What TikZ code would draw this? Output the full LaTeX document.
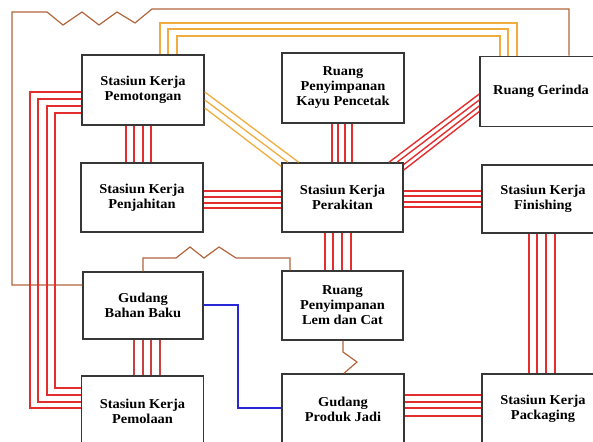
\documentclass[tikz,border=0pt]{standalone}
\usepackage{fontspec}
\setmainfont{Liberation Serif}[FakeStretch=1.06]
\definecolor{lnred}{RGB}{228,45,45}
\definecolor{lndred}{RGB}{200,65,65}
\definecolor{lnbrown}{RGB}{178,100,58}
\definecolor{lnorange}{RGB}{240,172,62}
\definecolor{lnblue}{RGB}{40,40,215}
\definecolor{boxline}{RGB}{55,55,55}
\tikzset{
  box/.style={draw=boxline, line width=1.5pt, fill=white, rectangle, minimum width=122pt, minimum height=70pt, inner sep=0pt, align=center, font=\fontsize{13.6}{15}\selectfont\bfseries},
  redln/.style={draw=lnred, line width=1.4pt},
  dredln/.style={draw=lndred, line width=1.4pt},
  brownln/.style={draw=lnbrown, line width=1.2pt},
  orangeln/.style={draw=lnorange, line width=1.3pt},
  blueln/.style={draw=lnblue, line width=1.3pt}
}
\begin{document}
\begin{tikzpicture}[x=1pt,y=-1pt]
\useasboundingbox (0,0) rectangle (593,441);
\clip (0,0) rectangle (593,441);
% boxes
\node[box] (pemotongan) at (143,90) {Stasiun Kerja\\Pemotongan};
\node[box] (kayu) at (343,88) {Ruang\\Penyimpanan\\Kayu Pencetak};
\node[box] (gerinda) at (541,91.5) {Ruang Gerinda};
\node[box, minimum height=69pt] (penjahitan) at (142,197.5) {Stasiun Kerja\\Penjahitan};
\node[box, minimum height=69pt, minimum width=121pt] (perakitan) at (342.5,197.5) {Stasiun Kerja\\Perakitan};
\node[box, minimum height=68pt] (finishing) at (543,199) {Stasiun Kerja\\Finishing};
\node[box, minimum height=67pt, minimum width=120pt] (bahan) at (143,305.5) {Gudang\\Bahan Baku};
\node[box, minimum height=69pt, minimum width=121pt] (lem) at (342.5,305.5) {Ruang\\Penyimpanan\\Lem dan Cat};
\node[box] (pemolaan) at (142.5,411) {Stasiun Kerja\\Pemolaan};
\node[box] (produk) at (343,409) {Gudang\\Produk Jadi};
\node[box] (packaging) at (543,409) {Stasiun Kerja\\Packaging};
% brown top line: Gudang Bahan Baku -> Ruang Gerinda
\draw[brownln] (bahan.west |- 0,285) -- (12,285) -- (12,12) -- (47,12) -- (63,25) -- (82,12) -- (99,25) -- (117,12) -- (135,23) -- (152,9) -- (569,9) -- (gerinda.north -| 569,0);
% brown: Gudang Bahan Baku -> Ruang Lem
\draw[brownln] (bahan.north -| 143,0) -- (143,258) -- (176,258) -- (190,247) -- (204,258) -- (219,247) -- (236,258) -- (290,258) -- (lem.north -| 290,0);
% brown: Lem -> Produk Jadi
\draw[brownln] (lem.south -| 343,0) -- (343,352) -- (357,362) -- (produk.north -| 344,0);
% blue: Bahan Baku -> Produk Jadi
\draw[blueln] (bahan.east |- 0,305) -- (238,305) -- (238,408) -- (produk.west |- 0,408);
% orange: Pemotongan -> Gerinda
\foreach \xa/\y/\xb in {160/23/517, 168/29/508, 177/36/500}
  \draw[orangeln] (pemotongan.north -| \xa,0) -- (\xa,\y) -- (\xb,\y) -- (gerinda.north -| \xb,0);
% orange diagonal: Pemotongan -> Perakitan
\draw[orangeln] (pemotongan.east |- 0,92) -- (perakitan.north -| 298.7,0);
\draw[orangeln] (pemotongan.east |- 0,100) -- (perakitan.north -| 288,0);
\draw[orangeln] (pemotongan.east |- 0,108) -- (perakitan.west |- 0,166.5);
% red: Pemotongan -> Pemolaan
\foreach \x/\ya/\yb in {30/92/408, 38/99/402, 47/106/395, 55/113/388}
  \draw[redln] (pemotongan.west |- 0,\ya) -- (\x,\ya) -- (\x,\yb) -- (pemolaan.west |- 0,\yb);
% red: Pemotongan -> Penjahitan
\foreach \x in {126,134,143,151}
  \draw[redln] (pemotongan.south -| \x,0) -- (penjahitan.north -| \x,0);
% red: Penjahitan -> Perakitan
\foreach \y in {191,197,203,208}
  \draw[redln] (penjahitan.east |- 0,\y) -- (perakitan.west |- 0,\y);
% red: Kayu -> Perakitan
\foreach \x in {332,338,345,352}
  \draw[redln] (kayu.south -| \x,0) -- (perakitan.north -| \x,0);
% red diagonal: Gerinda -> Perakitan
\draw[redln] (gerinda.west |- 0,94) -- (perakitan.north -| 389,0);
\draw[redln] (gerinda.west |- 0,100) -- (perakitan.north -| 397,0);
\draw[redln] (gerinda.west |- 0,106) -- (perakitan.east |- 0,164.5);
\draw[redln] (gerinda.west |- 0,111.5) -- (perakitan.east |- 0,170);
% red: Perakitan -> Finishing
\foreach \y in {191,196,202,207}
  \draw[redln] (perakitan.east |- 0,\y) -- (finishing.west |- 0,\y);
% red: Perakitan -> Lem
\foreach \x in {325,333,342,351}
  \draw[redln] (perakitan.south -| \x,0) -- (lem.north -| \x,0);
% red: Finishing -> Packaging
\foreach \x in {529,537,546,555}
  \draw[redln] (finishing.south -| \x,0) -- (packaging.north -| \x,0);
% red: Bahan Baku -> Pemolaan
\foreach \x in {134,143,151,160}
  \draw[dredln] (bahan.south -| \x,0) -- (pemolaan.north -| \x,0);
% red: Produk Jadi -> Packaging
\foreach \y in {395,402,408,416}
  \draw[redln] (produk.east |- 0,\y) -- (packaging.west |- 0,\y);
\end{tikzpicture}
\end{document}
